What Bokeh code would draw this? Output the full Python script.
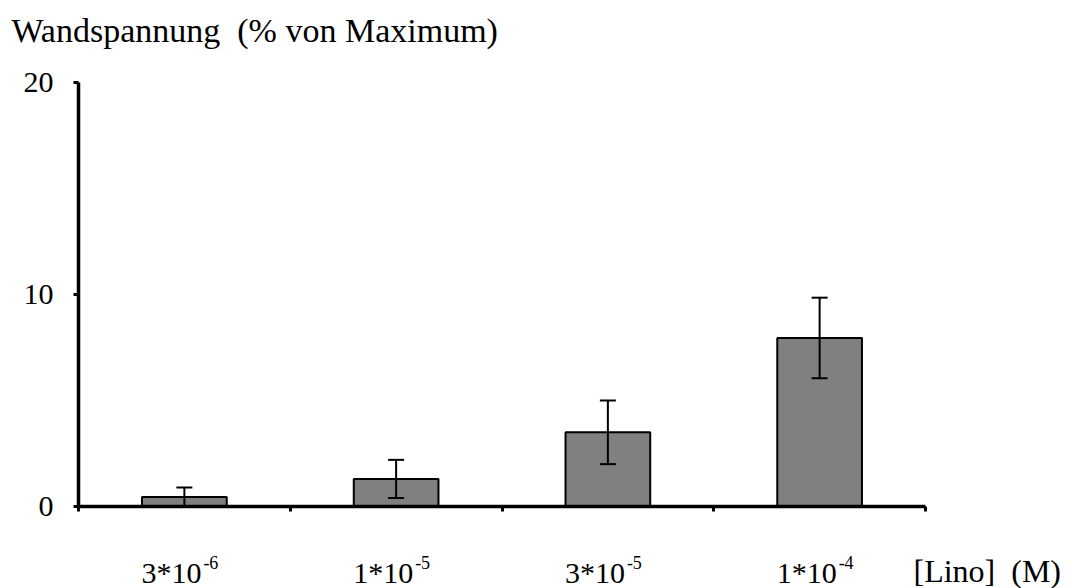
from bokeh.plotting import figure
from bokeh.models import (ColumnDataSource, Whisker, TeeHead, Range1d,
                          FixedTicker, LinearAxis)
from bokeh.core.properties import value
from bokeh.embed import file_html
from bokeh.resources import INLINE

# Wall tension after linoleic acid, % of maximum (mean ± error)
concentrations = ["3*10", "1*10", "3*10", "1*10"]
exponents = ["-6", "-5", "-5", "-4"]
tension = [0.45, 1.3, 3.5, 7.95]
error = [0.45, 0.9, 1.5, 1.9]
y_ticks = [0, 10, 20]
x_title = "[Lino]\u00a0 (M)"
y_title = "Wandspannung\u00a0 (% von Maximum)"

SERIF = "Liberation Serif"
W, H = 1068, 588
X0, XPX = 78, 211.75      # screen x of category axis origin, px per category
Y0, YPX = 506, 21.2       # screen y of value 0, px per percent
BASELINE_FIX = 0.28       # svg text baseline correction, in em

xs = [i + 0.5 for i in range(len(tension))]
src = ColumnDataSource(dict(
    x=xs, top=tension,
    lower=[t - e for t, e in zip(tension, error)],
    upper=[t + e for t, e in zip(tension, error)],
))

p = figure(width=W, height=H, output_backend="svg", toolbar_location=None,
           x_range=Range1d(-X0 / XPX, (W - X0) / XPX),
           y_range=Range1d(-(H - Y0) / YPX, Y0 / YPX),
           x_axis_type=None, y_axis_type=None,
           min_border=0)
p.outline_line_color = None
p.grid.visible = False

p.vbar(x="x", top="top", bottom=0, width=0.4, source=src,
       fill_color="#808080", line_color="black", line_width=2)

w = Whisker(base="x", lower="lower", upper="upper", source=src, level="overlay",
            line_color="black", line_width=2,
            upper_head=TeeHead(size=16, line_width=2, line_color="black"),
            lower_head=TeeHead(size=16, line_width=2, line_color="black"))
p.add_layout(w)

# value axis, pinned at x = 0
ya = LinearAxis(fixed_location=0, bounds=(0, 20),
                ticker=FixedTicker(ticks=y_ticks))
ya.axis_line_width = 3.5
ya.major_tick_line_width = 3
ya.major_tick_out = 5
ya.major_tick_in = 0
ya.minor_tick_line_color = None
ya.major_label_standoff = 20
ya.major_label_text_font = SERIF
ya.major_label_text_font_size = "30px"
ya.major_label_text_color = "black"
p.add_layout(ya, "left")

# category axis, pinned at y = 0, ticks between categories
xa = LinearAxis(fixed_location=0, bounds=(0, 4),
                ticker=FixedTicker(ticks=[0, 1, 2, 3, 4]))
xa.axis_line_width = 3.5
xa.major_tick_line_width = 3
xa.major_tick_out = 5
xa.major_tick_in = 0
xa.minor_tick_line_color = None
xa.major_label_overrides = {t: "" for t in range(5)}
p.add_layout(xa, "below")

def y_at(screen_y, size):
    return (Y0 - (screen_y - BASELINE_FIX * size)) / YPX

lab = ColumnDataSource(dict(x=xs, base=concentrations, sup=exponents,
                            yb=[y_at(580, 30)] * 4, ys=[y_at(567, 18)] * 4))
p.text(x="x", y="yb", text="base", source=lab, x_offset=17,
       text_align="right", text_baseline="alphabetic",
       text_font=value(SERIF), text_font_size="30px", text_color="black")
p.text(x="x", y="ys", text="sup", source=lab, x_offset=19,
       text_align="left", text_baseline="alphabetic",
       text_font=value(SERIF), text_font_size="18px", text_color="black")

p.text(x=[(913 - X0) / XPX], y=[y_at(579, 32)], text=[x_title],
       text_align="left", text_baseline="alphabetic",
       text_font=value(SERIF), text_font_size="32px", text_color="black")
p.text(x=[(11 - X0) / XPX], y=[y_at(40, 34)], text=[y_title],
       text_align="left", text_baseline="alphabetic",
       text_font=value(SERIF), text_font_size="34px", text_color="black")

open("out.html", "w").write(file_html(p, INLINE))
